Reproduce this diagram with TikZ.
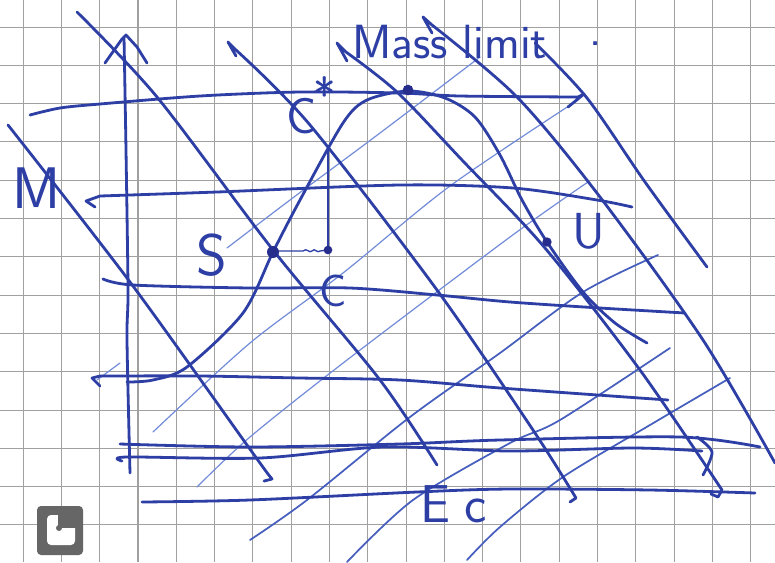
\documentclass[tikz,border=0pt]{standalone}
\usepackage{fontspec}
\definecolor{ink}{RGB}{45,62,165}
\definecolor{inkdark}{RGB}{38,45,140}
\definecolor{inkmid}{RGB}{70,95,190}
\definecolor{inklight}{RGB}{115,140,218}
\definecolor{gridgray}{RGB}{160,160,160}
\definecolor{logogray}{RGB}{102,102,102}
\begin{document}
\begin{tikzpicture}[x=0.75pt,y=-0.75pt,
  gridline/.style={gridgray, line width=0.7pt},
  pen/.style={ink, line width=2.1pt, line cap=round, line join=round},
  thinpen/.style={ink, line width=1pt, line cap=round, line join=round},
  midpen/.style={inkmid, line width=1.3pt, line cap=round, line join=round},
  faint/.style={inklight, line width=0.9pt, line cap=round, line join=round},
  dotmark/.style={circle, fill=inkdark, inner sep=0pt, minimum size=7.5pt},
  hand/.style={ink, inner sep=0pt}]
\fill[white] (0,0) rectangle (775,562);
\useasboundingbox (0,0) rectangle (775,562);
% grid paper
\foreach \i in {0,...,19} \draw[gridline] ({23+38.3*\i},0) -- ({23+38.3*\i},562);
\foreach \j in {0,...,13} \draw[gridline] (0,{27+38.3*\j}) -- (775,{27+38.3*\j});
\draw[gridgray, line width=1.3pt] (137.9,0) -- (137.9,562);
% faint rising lines
\draw[faint] plot[smooth] coordinates {(227,248) (290,200) (380,133) (480,57)};
\draw[faint] plot[smooth] coordinates {(153,432) (250,343) (343,273) (450,186) (578,100)};
\draw[faint] plot[smooth] coordinates {(197,487) (250,437) (347,360) (510,237) (588,182)};
\draw[faint] (97,380) -- (120,363);
% medium rising lines
\draw[midpen] plot[smooth] coordinates {(250,540) (307,500) (410,417) (500,353) (583,292) (658,255)};
\draw[midpen] plot[smooth] coordinates {(347,562) (413,500) (510,443) (560,420) (670,348)};
\draw[midpen] plot[smooth] coordinates {(467,560) (500,527) (563,477) (650,425) (730,378)};
% horizontal lines
\draw[pen] plot[smooth] coordinates {(30,115) (60,108) (100,104) (200,96) (300,92) (400,93) (460,96) (578,97)} -- (584,94) -- (568,107);
\draw[pen] (95,207) -- (86,201) -- plot[smooth] coordinates {(100,196) (217,192) (400,185) (513,188) (597,200) (632,207)};
\draw[pen] plot[smooth] coordinates {(103,279) (133,285) (250,288) (350,288) (437,295) (510,302) (600,308) (685,313)};
\draw[pen] (100,386) -- (92,378) -- plot[smooth] coordinates {(100,376) (200,376) (300,378) (400,380) (500,388) (668,400)};
\draw[pen] plot[smooth] coordinates {(120,444) (250,447) (400,444) (500,440) (680,437) (760,447)};
\draw[pen] plot[smooth] coordinates {(122,461) (127,457) (260,458) (383,447) (510,451) (633,448) (702,451)};
\draw[pen] plot[smooth] coordinates {(697,437) (712,452) (703,475)};
\draw[pen] plot[smooth] coordinates {(142,502) (250,500) (417,492) (510,489) (650,490) (755,493)};
% falling lines
\draw[pen] plot[smooth] coordinates {(8,125) (130,282) (247,445) (268,474)} -- (272,479) -- (264,481);
\draw[pen] plot[smooth] coordinates {(77,12) (157,97) (273,250) (380,380) (437,465)};
\draw[pen] (236,56) -- (228,42) -- plot[smooth] coordinates {(236,50) (310,125) (437,290) (533,430) (576,498)} -- (570,502);
\draw[pen] (347,61) -- (337,43) -- plot[smooth] coordinates {(346,52) (397,92) (462,160) (545,248) (640,370) (722,490)} -- (718,497) -- (711,494);
\draw[pen] (432,33) -- (423,17) -- plot[smooth] coordinates {(432,25) (517,97) (600,197) (703,340) (775,463)};
\draw[pen] plot[smooth] coordinates {(535,43) (587,98) (645,182) (707,267)};
% axis with arrowhead
\draw[pen] plot[smooth] coordinates {(124,37) (126,150) (128,290) (127,340) (130,473)};
\draw[pen] (105,63) -- (122,39) -- (126,35) -- (137,47) -- (147,63);
% bell curve
\draw[pen] plot[smooth] coordinates {(127,382) (153,380) (187,367) (243,313) (273,252) (300,200) (343,123) (367,100) (408,91) (445,98) (475,117) (500,155) (522,200) (547,242) (583,292) (615,323) (647,343)};
% construction from S to C and up to the curve
\draw[thinpen] (328,250) -- (328,150);
\draw[thinpen] (278,251) -- (303,251) .. controls (307,247) and (309,254) .. (312,251) .. controls (315,247) and (317,254) .. (320,251) -- (328,250);
% points
\node[dotmark, minimum size=9pt] (ptS) at (273,252) {};
\node[dotmark, minimum size=6.5pt] (ptC) at (328,250) {};
\node[dotmark, minimum size=8pt] (ptTop) at (408,90) {};
\node[dotmark, minimum size=7pt] (ptU) at (547,242) {};
% labels
\node[hand, anchor=base west, font=\fontsize{44}{48}\selectfont\sffamily] (labM) at (12,208) {M};
\node[hand, anchor=base west, font=\fontsize{44}{48}\selectfont\sffamily] (labS) at (196,275) {S};
\node[hand, anchor=base west, font=\fontsize{38}{42}\selectfont\sffamily] (labCs) at (286,133) {C};
\node[hand, anchor=base, font=\fontsize{36}{40}\selectfont\sffamily] (labStar) at (325,112) {*};
\node[hand, anchor=base west, font=\fontsize{34}{38}\selectfont\sffamily] (labC) at (319,306) {C};
\node[hand, anchor=base west, font=\fontsize{38}{42}\selectfont\sffamily] (labU) at (572,248) {U};
\node[hand, anchor=base west, font=\fontsize{36}{40}\selectfont\sffamily] (labMass) at (352,58) {Mass limit};
\node[hand, anchor=base west, font=\fontsize{35}{40}\selectfont\sffamily] (labDot) at (589,45) {.};
\node[hand, anchor=base west, font=\fontsize{40}{44}\selectfont\sffamily] (labEc) at (420,522) {E\kern11pt c};
% logo
\fill[logogray, rounded corners=3pt] (37,506) rectangle (83,555);
\fill[white, rounded corners=3pt] (47,515) rectangle (75,545);
\fill[logogray] (58,513) rectangle (77,528);
\fill[logogray] (59,528) circle (3);
\end{tikzpicture}
\end{document}
